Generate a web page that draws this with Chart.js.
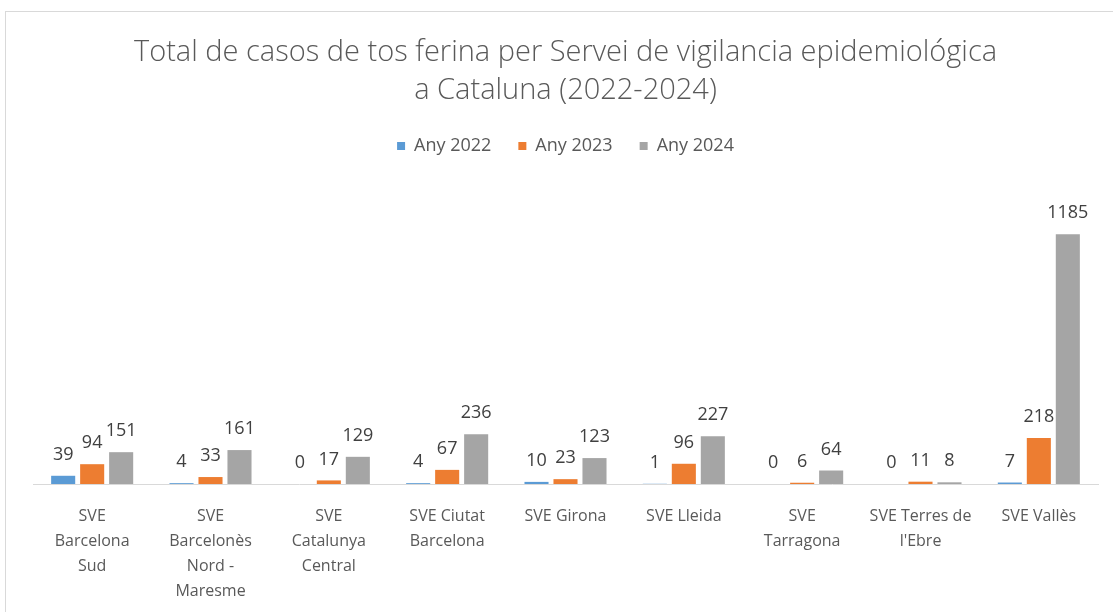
<!DOCTYPE html>
<html>
<head>
<meta charset="utf-8">
<script src="https://cdn.jsdelivr.net/npm/chart.js@4.4.1/dist/chart.umd.min.js"></script>
<style>
html,body{margin:0;padding:0;background:#fff;}
#wrap{width:1113px;height:612px;position:relative;}
</style>
</head>
<body>
<div id="wrap"><canvas id="c" width="1113" height="612"></canvas></div>
<script>
const categories = [
  ["SVE", "Barcelona", "Sud"],
  ["SVE", "Barcelonès", "Nord -", "Maresme"],
  ["SVE", "Catalunya", "Central"],
  ["SVE Ciutat", "Barcelona"],
  ["SVE Girona"],
  ["SVE Lleida"],
  ["SVE", "Tarragona"],
  ["SVE Terres de", "l'Ebre"],
  ["SVE Vallès"]
];
const seriesNames = ["Any 2022", "Any 2023", "Any 2024"];
const any2022 = [39, 4, 0, 4, 10, 1, 0, 0, 7];
const any2023 = [94, 33, 17, 67, 23, 96, 6, 11, 218];
const any2024 = [151, 161, 129, 236, 123, 227, 64, 8, 1185];
const colors = ["#5b9bd5", "#ed7d31", "#a5a5a5"];

const FONT = "'Open Sans', sans-serif";

const frame = {
  id: 'frame',
  beforeDraw(chart) {
    const ctx = chart.ctx;
    ctx.save();
    ctx.fillStyle = '#fff';
    ctx.fillRect(0, 0, chart.width, chart.height);
    ctx.strokeStyle = '#d9d9d9';
    ctx.lineWidth = 1;
    ctx.strokeRect(5.5, 11.5, 1300, 800);
    ctx.restore();
  }
};

const legendGap = {
  id: 'legendGap',
  beforeInit(chart) {
    const lg = chart.legend;
    if (!lg) return;
    const orig = lg.fit;
    lg.fit = function () {
      orig.call(this);
      this.height += 24;
    };
  }
};

const valueLabels = {
  id: 'valueLabels',
  afterDatasetsDraw(chart) {
    const ctx = chart.ctx;
    ctx.save();
    ctx.font = "18px " + FONT;
    ctx.fillStyle = '#404040';
    ctx.textAlign = 'center';
    ctx.textBaseline = 'middle';
    chart.data.datasets.forEach((ds, i) => {
      const meta = chart.getDatasetMeta(i);
      meta.data.forEach((bar, j) => {
        ctx.fillText(String(ds.data[j]), bar.x, bar.y - 21);
      });
    });
    ctx.restore();
  }
};

new Chart(document.getElementById('c'), {
  type: 'bar',
  data: {
    labels: categories,
    datasets: [any2022, any2023, any2024].map((d, i) => ({
      label: seriesNames[i],
      data: d,
      backgroundColor: colors[i],
      borderWidth: 0,
      categoryPercentage: 0.735,
      barPercentage: 0.83
    }))
  },
  options: {
    responsive: false,
    animation: false,
    layout: { padding: { top: 34, left: 33, right: 15, bottom: -12 } },
    plugins: {
      title: {
        display: true,
        text: ["Total de casos de tos ferina per Servei de vigilancia epidemiológica", "a Cataluna (2022-2024)"],
        color: '#595959',
        font: { family: FONT, size: 29, weight: '300', lineHeight: 1.31 },
        padding: { top: 0, bottom: 0 }
      },
      legend: {
        display: true,
        labels: {
          color: '#595959',
          font: { family: FONT, size: 18 },
          boxWidth: 8,
          boxHeight: 8,
          padding: 27
        }
      },
      tooltip: { enabled: false }
    },
    scales: {
      x: {
        grid: { display: false, drawTicks: false },
        border: { display: true, color: '#d9d9d9', width: 1 },
        ticks: {
          color: '#595959',
          font: { family: FONT, size: 16, lineHeight: 1.5625 },
          padding: 20,
          maxRotation: 0,
          autoSkip: false
        }
      },
      y: {
        display: false,
        min: 0,
        max: 1400
      }
    }
  },
  plugins: [frame, legendGap, valueLabels]
});
</script>
</body>
</html>
